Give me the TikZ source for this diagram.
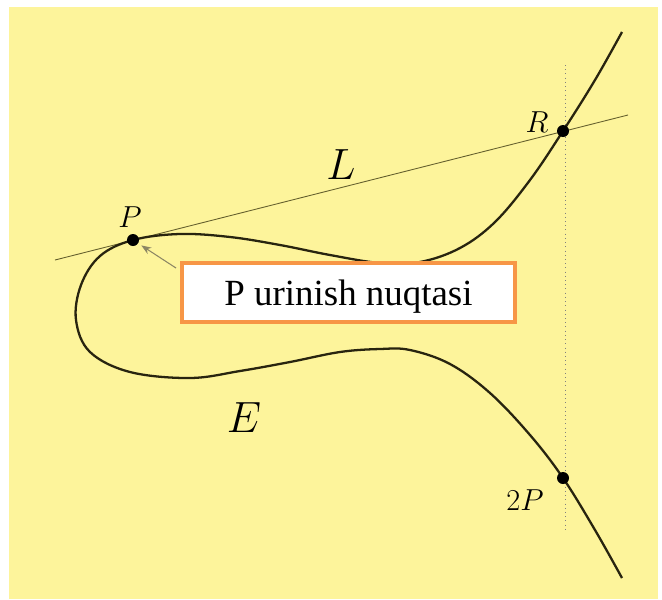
\documentclass[tikz,border=0pt]{standalone}
\usepackage{fontspec}
\newfontfamily\boxfont{Liberation Serif}
\usetikzlibrary{arrows.meta}
\definecolor{paper}{RGB}{253,244,155}
\definecolor{curvecol}{RGB}{40,36,15}
\definecolor{linecol}{RGB}{100,95,45}
\definecolor{arrowcol}{RGB}{140,134,100}
\definecolor{boxorange}{RGB}{247,150,70}

\begin{document}
\begin{tikzpicture}[x=0.02cm,y=-0.02cm,>=Stealth,
  pt/.style={circle,fill=black,inner sep=0pt,minimum size=2.4mm},
  lbl/.style={font=\fontsize{18}{18}\selectfont},
  biglbl/.style={font=\fontsize{27}{27}\selectfont}]
 % page
 \useasboundingbox (0,0) rectangle (662,599);
 \fill[paper] (9,7) rectangle (658,599);
 % vertical through R and 2P
 \draw[gray,dotted,thin] (565,65) -- (565,530);
 % tangent line L
 \draw[linecol,line width=0.5pt] (55,260) -- (628,115);
 % curve E
 \draw[curvecol,line width=1.3pt] plot[smooth,tension=0.6] coordinates {
   (622,32) (595,80) (563,131) (530,180) (495,222) (460,248) (420,262)
   (380,263) (330,255) (280,245) (230,237) (180,234) (133,240) (100,256)
   (81,285) (76,320) (90,352) (130,372) (190,378) (240,371) (290,362)
   (340,352) (380,349) (410,350) (450,364) (490,393) (530,435) (563,478)
   (595,530) (622,578)};
 % points
 \node[pt] (P) at (133,240) {};
 \node[pt] (R) at (563,131) {};
 \node[pt] (Q) at (563,478) {};
 \node[lbl] (Plbl) at (130,217) {$P$};
 \node[lbl] (Rlbl) at (537,122) {$R$};
 \node[lbl] (Qlbl) at (525,500) {$2P$};
 \node[biglbl] (Llbl) at (341,165) {$L$};
 \node[biglbl] (Elbl) at (244,418) {$E$};
 % callout
 \node[draw=boxorange,line width=2.2pt,fill=white,minimum width=6.66cm,
   minimum height=1.18cm,text depth=0pt,font=\boxfont\fontsize{21}{21}\selectfont]
   (box) at (348.5,292.5) {P urinish nuqtasi};
 \draw[->,arrowcol,line width=0.6pt,shorten >=2pt] ([shift={(-4,7)}]box.north west) -- (P);
\end{tikzpicture}
\end{document}
